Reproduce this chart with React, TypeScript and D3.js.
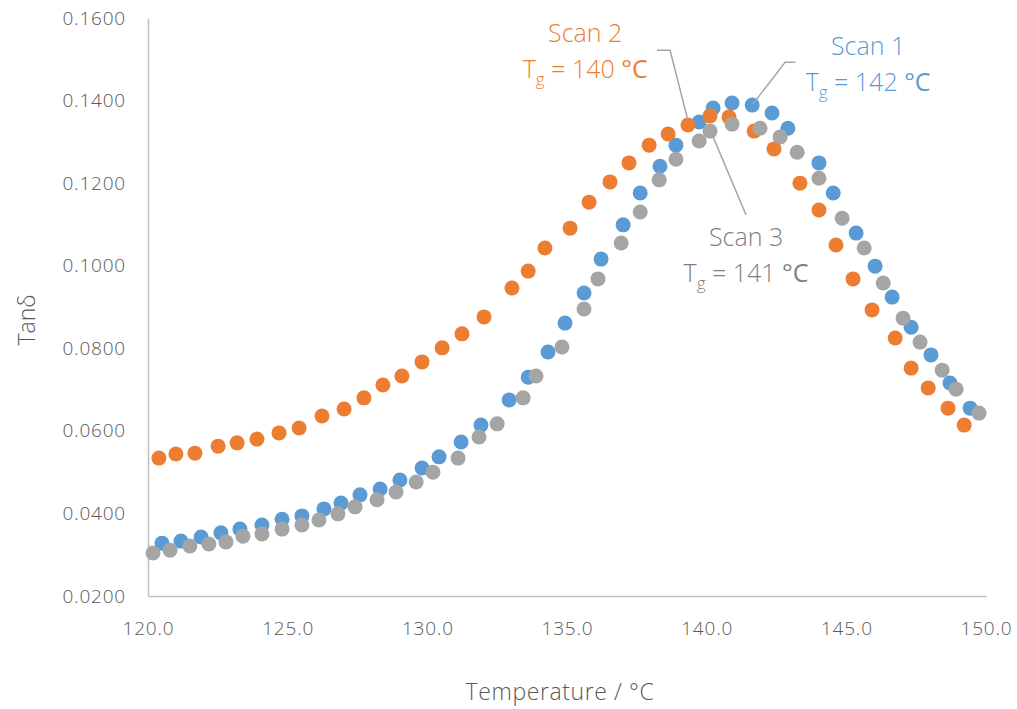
import React, { useEffect, useRef } from 'react';
import * as d3 from 'd3';

// Scan 1 (blue)
const scan1Temp = [120.5, 121.18, 121.9, 122.61, 123.29, 124.08, 124.8, 125.51, 126.3, 126.91, 127.59, 128.31, 129.02, 129.81, 130.42, 131.21, 131.92, 132.93, 133.61, 134.32, 134.93, 135.61, 136.22, 137.01, 137.62, 138.33, 138.9, 139.73, 140.23, 140.91, 141.63, 142.34, 142.91, 144.02, 144.53, 145.35, 146.03, 146.64, 147.32, 148.03, 148.71, 149.43];
const scan1Tan = [0.0328, 0.0333, 0.0343, 0.0353, 0.0362, 0.0372, 0.0386, 0.0394, 0.0411, 0.0425, 0.0445, 0.0459, 0.0481, 0.051, 0.0537, 0.0573, 0.0614, 0.0675, 0.073, 0.0791, 0.0861, 0.0934, 0.1016, 0.1099, 0.1176, 0.1241, 0.1292, 0.1348, 0.1382, 0.1394, 0.1389, 0.137, 0.1333, 0.1249, 0.1176, 0.1079, 0.0999, 0.0924, 0.0851, 0.0784, 0.0716, 0.0655];

// Scan 2 (orange)
const scan2Temp = [120.39, 121.0, 121.68, 122.51, 123.19, 123.9, 124.69, 125.41, 126.23, 127.02, 127.73, 128.41, 129.09, 129.81, 130.53, 131.24, 132.03, 133.03, 133.61, 134.21, 135.11, 135.79, 136.54, 137.22, 137.94, 138.62, 139.33, 140.12, 140.8, 141.7, 142.41, 143.34, 144.02, 144.63, 145.24, 145.92, 146.75, 147.32, 147.93, 148.64, 149.22];
const scan2Tan = [0.0534, 0.0544, 0.0546, 0.0563, 0.0571, 0.058, 0.0595, 0.0607, 0.0636, 0.0653, 0.068, 0.0711, 0.0733, 0.0767, 0.0801, 0.0835, 0.0876, 0.0946, 0.0987, 0.1043, 0.1091, 0.1154, 0.1203, 0.1249, 0.1292, 0.1319, 0.1341, 0.1363, 0.136, 0.1326, 0.1283, 0.12, 0.1135, 0.105, 0.0968, 0.0893, 0.0825, 0.0752, 0.0704, 0.0655, 0.0614];

// Scan 3 (grey)
const scan3Temp = [120.18, 120.79, 121.5, 122.18, 122.79, 123.4, 124.08, 124.8, 125.51, 126.12, 126.8, 127.41, 128.2, 128.88, 129.6, 130.2, 131.1, 131.85, 132.5, 133.43, 133.89, 134.82, 135.61, 136.11, 136.94, 137.62, 138.3, 138.9, 139.73, 140.12, 140.91, 141.91, 142.63, 143.24, 144.02, 144.85, 145.64, 146.32, 147.03, 147.64, 148.43, 148.93, 149.75];
const scan3Tan = [0.0304, 0.0311, 0.0321, 0.0326, 0.0331, 0.0345, 0.035, 0.0362, 0.0372, 0.0384, 0.0399, 0.0416, 0.0433, 0.0452, 0.0476, 0.05, 0.0534, 0.0585, 0.0617, 0.068, 0.0733, 0.0803, 0.0895, 0.0968, 0.1055, 0.113, 0.1208, 0.1258, 0.1302, 0.1326, 0.1343, 0.1333, 0.1312, 0.1275, 0.1212, 0.1115, 0.1043, 0.0958, 0.0873, 0.0815, 0.0747, 0.0701, 0.0643];

const xTicks = [120, 125, 130, 135, 140, 145, 150];
const yTicks = [0.02, 0.04, 0.06, 0.08, 0.1, 0.12, 0.14, 0.16];

const seriesNames = ['Scan 1', 'Scan 2', 'Scan 3'];
const seriesColors = ['#5B9BD5', '#ED7D31', '#A5A5A5'];
const labelColors = ['#5B9BD5', '#ED7D31', '#7F7F7F'];
const tgValues = ['142', '140', '141'];

// label anchors (temperature, tanδ) and leader line points
const labelX = [145.78, 135.65, 141.41];
const labelY = [0.151, 0.1542, 0.1048];
const leaders = [
  [[143.17, 0.1493], [142.81, 0.1493], [141.66, 0.1392]],
  [[138.22, 0.1522], [138.69, 0.1522], [139.33, 0.1352]],
  [[140.23, 0.1312], [141.41, 0.1123]],
];

const font = '"Open Sans", sans-serif';

const Chart = () => {
  const ref = useRef(null);

  useEffect(() => {
    const svg = d3.select(ref.current);
    svg.selectAll('*').remove();

    const width = 1017;
    const height = 709;
    const margin = { top: 18, right: 31, bottom: 113, left: 148 };

    const x = d3.scaleLinear().domain([120, 150]).range([margin.left, width - margin.right]);
    const y = d3.scaleLinear().domain([0.02, 0.16]).range([height - margin.bottom, margin.top]);

    // axes
    const xAxis = svg.append('g')
      .attr('transform', `translate(0, ${height - margin.bottom})`)
      .call(d3.axisBottom(x).tickValues(xTicks).tickFormat(d3.format('.1f')).tickSize(0).tickPadding(26));
    const yAxis = svg.append('g')
      .attr('transform', `translate(${margin.left}, 0)`)
      .call(d3.axisLeft(y).tickValues(yTicks).tickFormat(d3.format('.4f')).tickSize(0).tickPadding(22));

    [xAxis, yAxis].forEach(g => {
      g.select('.domain').attr('stroke', '#BFBFBF').attr('stroke-width', 1.5);
      g.selectAll('text')
        .attr('fill', '#595959')
        .style('font-family', font)
        .style('font-weight', 300)
        .style('font-size', '19px')
        .style('letter-spacing', '0.8px');
    });

    // axis titles
    svg.append('text')
      .attr('x', 560)
      .attr('y', 700)
      .attr('text-anchor', 'middle')
      .attr('fill', '#595959')
      .style('font-family', font)
      .style('font-weight', 300)
      .style('font-size', '23px')
      .style('letter-spacing', '0.6px')
      .text('Temperature / °C');

    svg.append('text')
      .attr('transform', 'translate(35, 320) rotate(-90)')
      .attr('text-anchor', 'middle')
      .attr('fill', '#595959')
      .style('font-family', font)
      .style('font-weight', 300)
      .style('font-size', '23px')
      .text('Tanδ');

    // points
    const series = [
      scan1Temp.map((t, i) => ({ t, v: scan1Tan[i] })),
      scan2Temp.map((t, i) => ({ t, v: scan2Tan[i] })),
      scan3Temp.map((t, i) => ({ t, v: scan3Tan[i] })),
    ];

    series.forEach((pts, s) => {
      svg.append('g')
        .selectAll('circle')
        .data(pts)
        .enter().append('circle')
        .attr('cx', d => x(d.t))
        .attr('cy', d => y(d.v))
        .attr('r', 7.5)
        .attr('fill', seriesColors[s]);
    });

    // leader lines
    const line = d3.line().x(d => x(d[0])).y(d => y(d[1]));
    leaders.forEach(pts => {
      svg.append('path')
        .attr('d', line(pts))
        .attr('fill', 'none')
        .attr('stroke', '#A6A6A6')
        .attr('stroke-width', 1.5);
    });

    // labels
    seriesNames.forEach((name, s) => {
      const g = svg.append('g')
        .attr('fill', labelColors[s])
        .style('font-family', font)
        .style('font-weight', 300)
        .attr('text-anchor', 'middle');
      g.append('text')
        .attr('x', x(labelX[s]))
        .attr('y', y(labelY[s]))
        .style('font-size', '25px')
        .text(name);
      const tg = g.append('text')
        .attr('x', x(labelX[s]))
        .attr('y', y(labelY[s]) + 36)
        .style('font-size', '25px');
      tg.append('tspan').text('T');
      tg.append('tspan').attr('dy', 7).style('font-size', '17px').text('g');
      tg.append('tspan').attr('dy', -7).text(` = ${tgValues[s]} `);
      tg.append('tspan').style('font-weight', 400).text('°C');
    });
  }, []);

  return (
    <svg
      ref={ref}
      width={1017}
      height={709}
      style={{ position: 'absolute', left: 0, top: 0, background: '#fff' }}
    />
  );
};

export default function App() {
  return <Chart />;
}
